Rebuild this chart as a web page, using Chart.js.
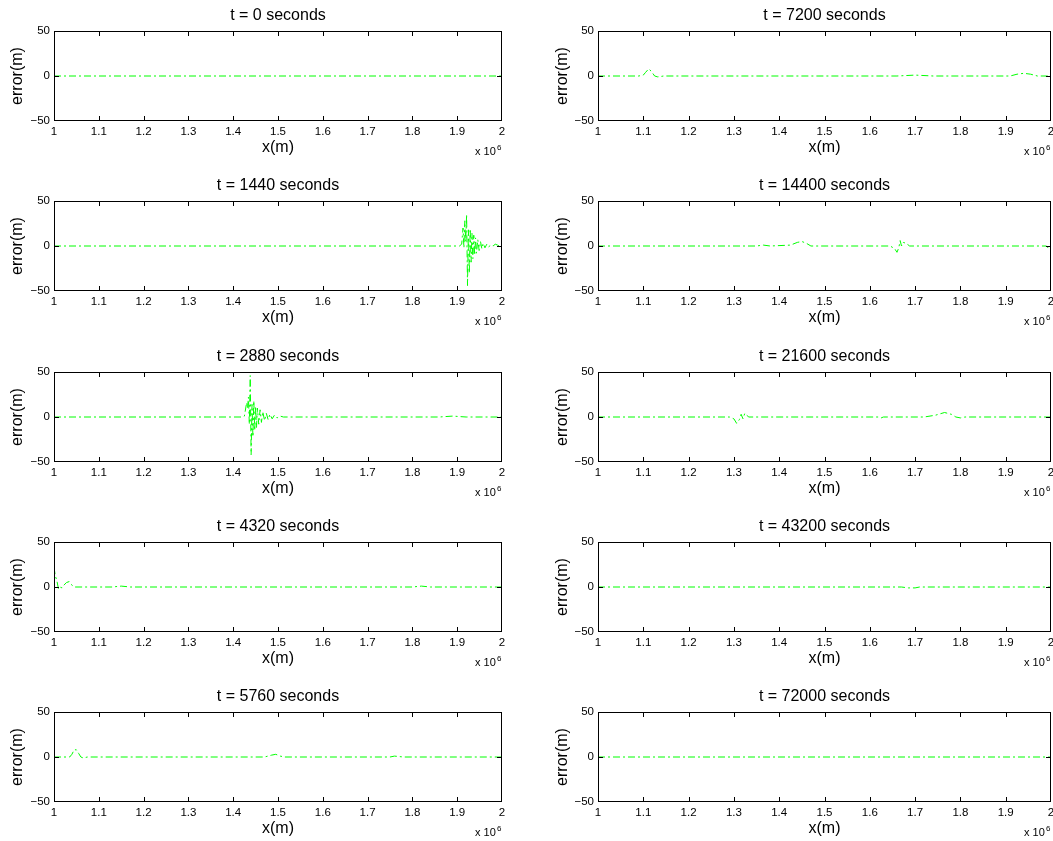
<!DOCTYPE html>
<html>
<head>
<meta charset="utf-8">
<script src="https://cdn.jsdelivr.net/npm/chart.js@4.4.1/dist/chart.umd.min.js"></script>
<style>
  html, body { margin: 0; padding: 0; background: #fff; overflow: hidden; }
  #wrap { position: relative; width: 1053px; height: 841px; }
  canvas { position: absolute; }
</style>
</head>
<body>
<div id="wrap"></div>
<script>
// snapshot times (seconds)
const times = [0, 1440, 2880, 4320, 5760, 7200, 14400, 21600, 43200, 72000];

// axis ticks (x in units of 10^6 m)
const xTickValues = [1, 1.1, 1.2, 1.3, 1.4, 1.5, 1.6, 1.7, 1.8, 1.9, 2];
const xTickLabels = ['1', '1.1', '1.2', '1.3', '1.4', '1.5', '1.6', '1.7', '1.8', '1.9', '2'];
const yTickValues = [-50, 0, 50];
const yTickLabels = ['\u221250', '0', '50'];

// error curves
const x_0 = [1.0, 2.0];
const err_0 = [0, 0];

const x_1440 = [1.0, 1.905, 1.910, 1.913, 1.915, 1.917, 1.919, 1.921, 1.923, 1.925, 1.927, 1.929, 1.931, 1.933,
  1.935, 1.937, 1.939, 1.941, 1.943, 1.946, 1.949, 1.952, 1.955, 1.958, 1.962, 1.966, 1.970, 1.975, 1.980,
  1.985, 1.990, 1.995, 2.0];
const err_1440 = [0, 0, 2, 20, -2, 28, 5, 35, -44, 18, -30, 19, -18, 14,
  -14, 12, -10, 9, -8, 7, -5, 5, -3, 3, -2, 2, -1, 1, 0,
  2, 1, 0, 0];

const x_2880 = [1.0, 1.420, 1.425, 1.430, 1.432, 1.434, 1.436, 1.438, 1.440, 1.442, 1.444, 1.446, 1.448,
  1.450, 1.452, 1.454, 1.457, 1.460, 1.463, 1.466, 1.470, 1.474, 1.478, 1.482, 1.487, 1.492, 1.498,
  1.505, 1.512, 1.86, 1.89, 1.92, 2.0];
const err_2880 = [0, 0, 1, 16, 10, 22, -8, 46, -42, 14, -22, 18, -15,
  12, -12, 10, -8, 8, -6, 6, -4, 4, -3, 3, -2, 2, -1,
  1, 0, 0, 1, 0, 0];

const x_4320 = [1.0, 1.003, 1.006, 1.010, 1.013, 1.018, 1.022, 1.028, 1.034, 1.038, 1.045, 1.13, 1.15, 1.17,
  1.80, 1.82, 1.84, 2.0];
const err_4320 = [22, 12, 8, -2, 0, -1, 2, 5, 6, 3, 0, 0, 1, 0,
  0, 1, 0, 0];

const x_5760 = [1.0, 1.035, 1.040, 1.045, 1.050, 1.055, 1.060, 1.065, 1.075, 1.47, 1.485, 1.495, 1.505,
  1.515, 1.75, 1.76, 1.78, 2.0];
const err_5760 = [0, 0, 3, 8, 8, 4, 0, -1, 0, 0, 2, 3, 1,
  0, 0, 1, 0, 0];

const x_7200 = [1.0, 1.09, 1.10, 1.105, 1.112, 1.118, 1.125, 1.132, 1.145, 1.66, 1.70, 1.74, 1.91, 1.925,
  1.94, 1.955, 1.97, 2.0];
const err_7200 = [0, 0, 1, 4, 8, 5, 0, -1, 0, 0, 1, 0, 0, 2,
  3, 2, 0, 0];

const x_14400 = [1.0, 1.35, 1.365, 1.38, 1.425, 1.44, 1.45, 1.46, 1.47, 1.645, 1.655, 1.660, 1.664, 1.667,
  1.670, 1.674, 1.680, 1.688, 1.99, 1.995, 2.0];
const err_14400 = [0, 0, 1, 0, 1, 4, 5, 3, 0, 0, -3, -7, -2, 6,
  0, 4, 3, 0, 0, -3, -1];

const x_21600 = [1.0, 1.29, 1.30, 1.306, 1.312, 1.316, 1.320, 1.324, 1.328, 1.333, 1.62, 1.625, 1.63,
  1.72, 1.745, 1.765, 1.78, 1.79, 1.80, 1.81, 2.0];
const err_21600 = [0, 0, -2, -7, -3, 3, -2, 4, 2, 0, 0, -1, 0,
  0, 2, 5, 3, 0, -1, 0, 0];

const x_43200 = [1.0, 1.67, 1.685, 1.70, 1.71, 2.0];
const err_43200 = [0, 0, -1, -1, 0, 0];

const x_72000 = [1.0, 2.0];
const err_72000 = [0, 0];

const series = [
  [x_0, err_0], [x_1440, err_1440], [x_2880, err_2880], [x_4320, err_4320], [x_5760, err_5760],
  [x_7200, err_7200], [x_14400, err_14400], [x_21600, err_21600], [x_43200, err_43200], [x_72000, err_72000]
];

Chart.defaults.font.family = '"Liberation Sans", Arial, Helvetica, sans-serif';
Chart.defaults.color = '#000';

// box + inward tick marks + "x 10^6", matlab style (filled 1px rects)
const matlabAxes = {
  id: 'matlabAxes',
  afterRender(chart) {
    const ctx = chart.ctx;
    const a = chart.chartArea;
    const xs = chart.scales.x, ys = chart.scales.y;
    const L = Math.round(a.left), R = Math.round(a.right) - 1;
    const T = Math.round(a.top), B = Math.round(a.bottom) - 1;
    ctx.save();
    ctx.fillStyle = '#000';
    ctx.globalAlpha = 1;
    ctx.globalCompositeOperation = 'source-over';
    ctx.fillRect(L, T, R - L + 1, 1);
    ctx.fillRect(L, B, R - L + 1, 1);
    ctx.fillRect(L, T, 1, B - T + 1);
    ctx.fillRect(R, T, 1, B - T + 1);
    xs.ticks.forEach(t => {
      const px = Math.min(R, Math.round(xs.getPixelForValue(t.value)));
      ctx.fillRect(px, B - 4, 1, 4);
      ctx.fillRect(px, T + 1, 1, 4);
    });
    ys.ticks.forEach(t => {
      const py = Math.min(B, Math.round(ys.getPixelForValue(t.value)));
      ctx.fillRect(L + 1, py, 4, 1);
      ctx.fillRect(R - 4, py, 4, 1);
    });
    ctx.textBaseline = 'alphabetic';
    ctx.textAlign = 'left';
    ctx.font = '11px "Liberation Sans", Arial, sans-serif';
    ctx.fillText('x 10', a.right - 27, a.bottom + 34);
    ctx.font = '8px "Liberation Sans", Arial, sans-serif';
    ctx.fillText('6', a.right - 5, a.bottom + 29);
    ctx.restore();
  }
};

const rowTops = [0, 170, 341, 511, 681];
const wrap = document.getElementById('wrap');

times.forEach((t, i) => {
  const col = i < 5 ? 0 : 1;
  const row = i % 5;
  const cv = document.createElement('canvas');
  const w = col === 0 ? 530 : 523;
  cv.width = w; cv.height = 170;
  cv.style.left = (col === 0 ? 0 : 530) + 'px';
  cv.style.top = rowTops[row] + 'px';
  cv.style.width = w + 'px'; cv.style.height = '170px';
  wrap.appendChild(cv);

  const yAxisWidth = col === 0 ? 54 : 68;
  const [xs, ys] = series[i];

  new Chart(cv.getContext('2d'), {
    type: 'line',
    data: {
      datasets: [{
        data: xs.map((x, k) => ({ x: x, y: ys[k] })),
        borderColor: 'rgb(0,255,0)',
        borderWidth: 1,
        borderDash: [7, 3, 2, 3],
        pointRadius: 0,
        tension: 0,
        fill: false
      }]
    },
    options: {
      responsive: false,
      animation: false,
      events: [],
      layout: { padding: { left: 0, right: col === 0 ? 28 : 2, top: 0, bottom: 0 } },
      plugins: {
        legend: { display: false },
        tooltip: { enabled: false },
        title: {
          display: true,
          text: 't = ' + t + ' seconds',
          fullSize: false,
          color: '#000',
          font: { size: 16, weight: 'normal' },
          padding: { top: 5.5, bottom: 6.3 }
        }
      },
      scales: {
        x: {
          type: 'linear',
          min: 1, max: 2,
          grid: { display: false, drawTicks: false },
          border: { display: false },
          afterBuildTicks: s => { s.ticks = xTickValues.map(v => ({ value: v })); },
          afterFit: s => { s.height = 49; s.paddingLeft = 0; s.paddingRight = 0; },
          ticks: {
            autoSkip: false, maxRotation: 0, padding: 4,
            font: { size: 11.5 }, color: '#000',
            callback: (v, k) => xTickLabels[k]
          },
          title: {
            display: true, text: 'x(m)', color: '#000',
            font: { size: 16 }, padding: { top: 0, bottom: 12.6 }
          }
        },
        y: {
          type: 'linear',
          min: -50, max: 50,
          grid: { display: false, drawTicks: false },
          border: { display: false },
          afterBuildTicks: s => { s.ticks = yTickValues.map(v => ({ value: v })); },
          afterFit: s => { s.width = yAxisWidth; s.paddingTop = 0; s.paddingBottom = 0; },
          ticks: {
            autoSkip: false, padding: 4,
            font: { size: 11.5 }, color: '#000',
            callback: (v, k) => yTickLabels[k]
          },
          title: {
            display: true, text: 'error(m)', color: '#000',
            font: { size: 16 }, padding: { top: col === 0 ? 8.4 : 23.4, bottom: 0 }
          }
        }
      }
    },
    plugins: [matlabAxes]
  });
});
</script>
</body>
</html>
